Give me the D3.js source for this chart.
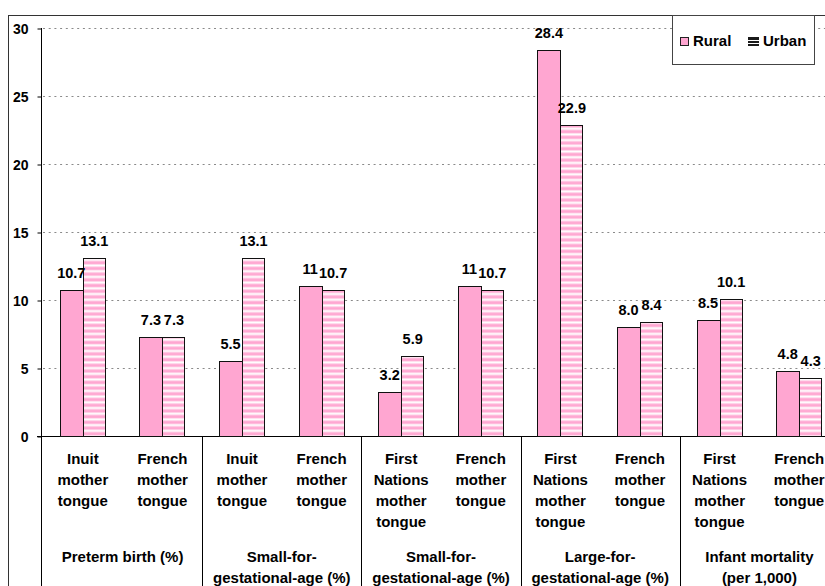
<!DOCTYPE html>
<html><head><meta charset="utf-8">
<script src="https://cdn.jsdelivr.net/npm/d3@7"></script>
<style>
html,body{margin:0;padding:0;background:#fff;}
svg{display:block;}
text{font-family:"Liberation Sans",Arial,sans-serif;font-weight:bold;fill:#000;}
</style></head>
<body>
<svg id="chart" width="825" height="586"></svg>
<script>
const categories = [
  ["Inuit","mother","tongue"],
  ["French","mother","tongue"],
  ["Inuit","mother","tongue"],
  ["French","mother","tongue"],
  ["First","Nations","mother","tongue"],
  ["French","mother","tongue"],
  ["First","Nations","mother","tongue"],
  ["French","mother","tongue"],
  ["First","Nations","mother","tongue"],
  ["French","mother","tongue"]
];
const groupLabels = [
  ["Preterm birth (%)"],
  ["Small-for-","gestational-age (%)"],
  ["Small-for-","gestational-age (%)"],
  ["Large-for-","gestational-age (%)"],
  ["Infant mortality","(per 1,000)"]
];
const seriesNames = ["Rural","Urban"];
const rural = [10.7, 7.3, 5.5, 11, 3.2, 11, 28.4, 8.0, 8.5, 4.8];
const urban = [13.1, 7.3, 13.1, 10.7, 5.9, 10.7, 22.9, 8.4, 10.1, 4.3];
const ruralLabels = ["10.7","7.3","5.5","11","3.2","11","28.4","8.0","8.5","4.8"];
const urbanLabels = ["13.1","7.3","13.1","10.7","5.9","10.7","22.9","8.4","10.1","4.3"];
const yTicks = [0,5,10,15,20,25,30];

const svg = d3.select("#chart");
const PINK = "#FFA6D1";

const defs = svg.append("defs");
const pat = defs.append("pattern").attr("id","stripes")
  .attr("patternUnits","userSpaceOnUse").attr("width",10).attr("height",5.7);
pat.append("rect").attr("width",10).attr("height",5.7).attr("fill",PINK);
pat.append("rect").attr("y",1.8).attr("width",10).attr("height",0.6).attr("fill","#FFDDEE");
pat.append("rect").attr("y",2.4).attr("width",10).attr("height",2).attr("fill","#FFFFFF");
pat.append("rect").attr("y",4.4).attr("width",10).attr("height",0.6).attr("fill","#FFDDEE");

const axisX = 41;
const x = d3.scaleBand().domain(d3.range(categories.length)).range([43, 839]).padding(0);
const y = d3.scaleLinear().domain([0,30]).range([436, 28]);
const barW = 23;

// outer border
svg.append("rect").attr("x",8.5).attr("y",15.5).attr("width",900).attr("height",700)
  .attr("fill","none").attr("stroke","#333").attr("stroke-width",1);

// gridlines
svg.append("g").selectAll("line").data(yTicks.filter(t=>t>0)).join("line")
  .attr("x1",axisX+2).attr("x2",839)
  .attr("y1",d=>Math.round(y(d))+0.5).attr("y2",d=>Math.round(y(d))+0.5)
  .attr("stroke","#8a8a8a").attr("stroke-width",1).attr("stroke-dasharray","2,3.7");

// y axis with d3
const yAxis = d3.axisLeft(y).tickValues(yTicks).tickSize(4).tickPadding(9).tickFormat(d3.format("d"));
const gy = svg.append("g").attr("transform",`translate(${axisX+0.5},0.5)`).call(yAxis);
gy.select(".domain").remove();
gy.selectAll(".tick line").attr("stroke","#000");
gy.selectAll(".tick text").attr("font-size",14).attr("dy","0.36em")
  .style("font-family","'Liberation Sans',Arial,sans-serif").style("font-weight","bold").attr("fill","#000");
// vertical axis line extended to bottom
svg.append("line").attr("x1",axisX+0.5).attr("x2",axisX+0.5).attr("y1",y(30)).attr("y2",586)
  .attr("stroke","#000");
// x axis baseline
svg.append("line").attr("x1",axisX-4).attr("x2",839).attr("y1",y(0)+0.5).attr("y2",y(0)+0.5)
  .attr("stroke","#000");

// pair dividers
const pairBounds = d3.range(1, groupLabels.length).map(i => x(i*2));
svg.append("g").selectAll("line").data(pairBounds).join("line")
  .attr("x1",d=>Math.round(d)+0.5).attr("x2",d=>Math.round(d)+0.5)
  .attr("y1",y(0)).attr("y2",586).attr("stroke","#000");

// bars
const center = i => x(i) + x.bandwidth()/2;
const gb = svg.append("g");
gb.selectAll("rect.rural").data(rural).join("rect").attr("class","rural")
  .attr("x",(d,i)=>Math.round(center(i)-barW)+0.5).attr("width",barW)
  .attr("y",d=>Math.round(y(d))+0.5).attr("height",d=>y(0)-Math.round(y(d)))
  .attr("fill",PINK).attr("stroke","#111").attr("stroke-width",1);
gb.selectAll("rect.urban").data(urban).join("rect").attr("class","urban")
  .attr("x",(d,i)=>Math.round(center(i))+0.5).attr("width",barW-1)
  .attr("y",d=>Math.round(y(d))+0.5).attr("height",d=>y(0)-Math.round(y(d)))
  .attr("fill","url(#stripes)").attr("stroke","#111").attr("stroke-width",1);

// value labels
const gl = svg.append("g").attr("font-size",14.5).attr("text-anchor","middle");
gl.selectAll("text.rl").data(rural).join("text").attr("class","rl")
  .attr("x",(d,i)=>center(i)-barW/2).attr("y",d=>y(d)-12).text((d,i)=>ruralLabels[i]);
gl.selectAll("text.ul").data(urban).join("text").attr("class","ul")
  .attr("x",(d,i)=>center(i)+barW/2).attr("y",d=>y(d)-12).text((d,i)=>urbanLabels[i]);

// category labels
const gc = svg.append("g").attr("font-size",15).attr("text-anchor","middle");
categories.forEach((lines,i)=>{
  const t = gc.append("text").attr("x",center(i)).attr("y",464);
  lines.forEach((ln,k)=>{
    t.append("tspan").attr("x",center(i)).attr("y",464+k*20.9).text(ln);
  });
});
// group labels
groupLabels.forEach((lines,g)=>{
  const cx = x(g*2) + x.bandwidth();
  const t = gc.append("text").attr("x",cx).attr("y",562);
  lines.forEach((ln,k)=>{
    t.append("tspan").attr("x",cx).attr("y",562+k*20.5).text(ln);
  });
});

// legend
const lg = svg.append("g");
lg.append("rect").attr("x",672.5).attr("y",15.5).attr("width",142).attr("height",49)
  .attr("fill","#fff").attr("stroke","#444");
lg.append("rect").attr("x",680.5).attr("y",37.5).attr("width",8).attr("height",8)
  .attr("fill",PINK).attr("stroke","#222");
lg.append("text").attr("x",693).attr("y",46).attr("font-size",15).text(seriesNames[0]);
lg.append("rect").attr("x",748).attr("y",37).attr("width",11).attr("height",9).attr("fill","#1a1a1a");
lg.append("rect").attr("x",748).attr("y",40).attr("width",11).attr("height",1).attr("fill","#fff");
lg.append("rect").attr("x",748).attr("y",43).attr("width",11).attr("height",1).attr("fill","#fff");
lg.append("text").attr("x",763).attr("y",46).attr("font-size",15).text(seriesNames[1]);
</script>
</body></html>
